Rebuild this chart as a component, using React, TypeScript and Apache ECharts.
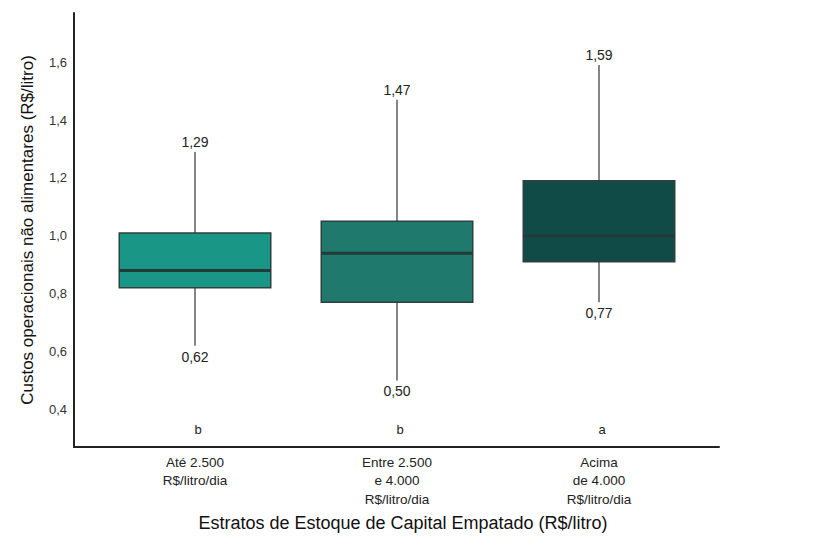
import React, { useEffect, useRef } from "react";
import * as echarts from "echarts";

// Strata of tied-up capital stock
const categories = [
  "Até 2.500\nR$/litro/dia",
  "Entre 2.500\ne 4.000\nR$/litro/dia",
  "Acima\nde 4.000\nR$/litro/dia",
];
// Five-number summaries per stratum (R$/litro)
const mins = [0.62, 0.5, 0.77];
const q1s = [0.82, 0.77, 0.91];
const medians = [0.88, 0.94, 1.0];
const q3s = [1.01, 1.05, 1.19];
const maxs = [1.29, 1.47, 1.59];
// Significance group letters
const groups = ["b", "b", "a"];
const boxColors = ["#1a9687", "#1f7a6d", "#114b47"];

const Y_MIN = 0.27;
const Y_MAX = 1.77;
const LETTER_LEVEL = 0.332;
const FONT = "'Liberation Sans', Arial, Helvetica, sans-serif";

const fmt = (v: number, d: number) => v.toFixed(d).replace(".", ",");

export default function App() {
  const ref = useRef<HTMLDivElement>(null);

  useEffect(() => {
    if (!ref.current) return;
    const chart = echarts.init(ref.current, null, { renderer: "svg" });

    const rows = categories.map((_, i) => [i, mins[i], q1s[i], medians[i], q3s[i], maxs[i]]);

    const renderItem = (params: any, api: any) => {
      const i = api.value(0);
      const lo = api.value(1);
      const q1 = api.value(2);
      const med = api.value(3);
      const q3 = api.value(4);
      const hi = api.value(5);
      const cx = api.coord([i, med])[0];
      const bw = api.size([1, 0])[0] * 0.75;
      const yLo = api.coord([i, lo])[1];
      const yQ1 = api.coord([i, q1])[1];
      const yMed = api.coord([i, med])[1];
      const yQ3 = api.coord([i, q3])[1];
      const yHi = api.coord([i, hi])[1];
      const yLetter = api.coord([i, LETTER_LEVEL])[1];
      const whisker = { stroke: "#444", lineWidth: 1.3 };
      const labelStyle = { fontSize: 14, fill: "#222", fontFamily: FONT, textAlign: "center" };
      return {
        type: "group",
        children: [
          { type: "line", shape: { x1: cx, y1: yHi, x2: cx, y2: yQ3 }, style: whisker },
          { type: "line", shape: { x1: cx, y1: yQ1, x2: cx, y2: yLo }, style: whisker },
          {
            type: "rect",
            shape: { x: cx - bw / 2, y: yQ3, width: bw, height: yQ1 - yQ3 },
            style: { fill: boxColors[i], stroke: "#2f3f3e", lineWidth: 1.5 },
          },
          {
            type: "line",
            shape: { x1: cx - bw / 2, y1: yMed, x2: cx + bw / 2, y2: yMed },
            style: { stroke: "#233b38", lineWidth: 3 },
          },
          {
            type: "text",
            style: { ...labelStyle, text: fmt(hi, 2), x: cx, y: yHi - 3, textVerticalAlign: "bottom" },
          },
          {
            type: "text",
            style: { ...labelStyle, text: fmt(lo, 2), x: cx, y: yLo + 4, textVerticalAlign: "top" },
          },
          {
            type: "text",
            style: { ...labelStyle, fontSize: 13, text: groups[i], x: cx + 3, y: yLetter, textVerticalAlign: "middle" },
          },
        ],
      };
    };

    chart.setOption({
      animation: false,
      textStyle: { fontFamily: FONT },
      grid: [
        { left: 74, top: 13, width: 645, height: 434 },
        { left: 94, top: 13, width: 606, height: 434 },
      ],
      xAxis: [
        {
          gridIndex: 0,
          type: "value",
          min: 0,
          max: 1,
          axisLine: { show: true, lineStyle: { color: "#222", width: 2 } },
          axisTick: { show: false },
          axisLabel: { show: false },
          splitLine: { show: false },
        },
        {
          gridIndex: 1,
          type: "category",
          data: categories,
          axisLine: { show: false },
          axisTick: { show: false },
          axisLabel: { fontSize: 13.5, lineHeight: 18.5, color: "#222", margin: 6 },
          name: "Estratos de Estoque de Capital Empatado (R$/litro)",
          nameLocation: "middle",
          nameGap: 67,
          nameTextStyle: { fontSize: 18, color: "#111", padding: [0, 0, 0, 12] },
        },
      ],
      yAxis: [
        {
          gridIndex: 0,
          type: "value",
          min: Y_MIN,
          max: Y_MAX,
          splitNumber: 7,
          axisLine: { show: true, lineStyle: { color: "#222", width: 2 } },
          axisTick: { show: false },
          splitLine: { show: false },
          axisLabel: {
            fontSize: 13,
            color: "#333",
            margin: 7,
            showMinLabel: false,
            showMaxLabel: false,
            formatter: (v: number) => fmt(v, 1),
          },
          name: "Custos operacionais não alimentares (R$/litro)",
          nameLocation: "middle",
          nameGap: 38,
          nameTextStyle: { fontSize: 17, color: "#111" },
        },
        {
          gridIndex: 1,
          type: "value",
          min: Y_MIN,
          max: Y_MAX,
          show: false,
        },
      ],
      series: [
        {
          type: "custom",
          xAxisIndex: 1,
          yAxisIndex: 1,
          data: rows,
          encode: { x: 0, y: [1, 2, 3, 4, 5] },
          renderItem,
        },
      ],
    });

    return () => chart.dispose();
  }, []);

  return (
    <div
      ref={ref}
      style={{ position: "fixed", left: 0, top: 0, width: 822, height: 555, background: "#fff" }}
    />
  );
}
